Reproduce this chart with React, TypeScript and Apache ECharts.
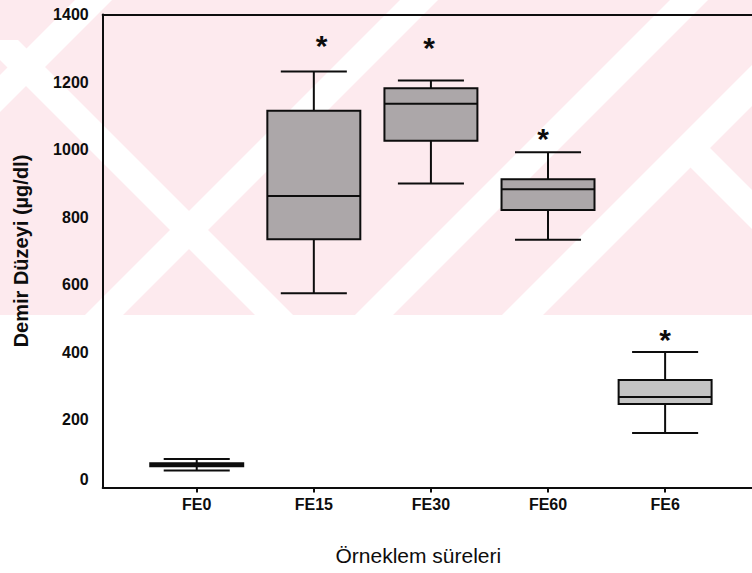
import React, { useEffect, useRef } from 'react';
import * as echarts from 'echarts';

// ---- data ----
const categories = ['FE0', 'FE15', 'FE30', 'FE60', 'FE6'];
const whiskerLow = [50, 575, 900, 733, 161];
const q1 = [63, 735, 1026, 821, 247];
const median = [68, 863, 1136, 883, 268];
const q3 = [72, 1115, 1182, 912, 318];
const whiskerHigh = [84, 1231, 1205, 992, 401];
const asteriskY: (number | null)[] = [null, 1316, 1310, 1043, 446];
const asteriskDx = [0, 0.067, -0.016, -0.043, 0];
const yTickValues = [0, 200, 400, 600, 800, 1000, 1200, 1400];

// ---- styles ----
const FONT = '"Liberation Sans", Arial, Helvetica, sans-serif';
const INK = '#0d0d0d';
const boxFill = ['#1a1a1a', '#aca7a9', '#aca7a9', '#aca7a9', '#c4c4c4'];
const PINK = '#fdeaee';

const pinkH = 315;
const downLeft = (c1: number, c2: number) => ({
  type: 'polygon',
  z: -99,
  silent: true,
  shape: { points: [[c1, 0], [c2, 0], [c2 - pinkH, pinkH], [c1 - pinkH, pinkH]] },
  style: { fill: '#ffffff' },
});
const downRightFrom = (d1: number, d2: number, y0: number) => ({
  type: 'polygon',
  z: -99,
  silent: true,
  shape: { points: [[d1 + y0, y0], [d2 + y0, y0], [d2 + pinkH, pinkH], [d1 + pinkH, pinkH]] },
  style: { fill: '#ffffff' },
});

export default function App() {
  const ref = useRef<HTMLDivElement>(null);
  useEffect(() => {
    if (!ref.current) return;
    const chart = echarts.init(ref.current, null, { renderer: 'svg' });
    const rows = categories.map((_, i) => [i, whiskerLow[i], q1[i], median[i], q3[i], whiskerHigh[i]]);
    const xMin = -0.803;
    const xMax = 4.742;
    chart.setOption({
      animation: false,
      backgroundColor: '#ffffff',
      graphic: [
        { type: 'rect', z: -100, silent: true, shape: { x: 0, y: 0, width: 752, height: pinkH }, style: { fill: PINK } },
        downLeft(75, 112),
        downLeft(400, 438),
        downLeft(670, 708),
        downLeft(817, 858),
        downRightFrom(-60, -22, 40),
        downRightFrom(523, 562, 147),
      ],
      grid: { left: 102.7, right: 0, top: 14.5, bottom: 85.5, containLabel: false },
      xAxis: [
        {
          type: 'value',
          min: xMin,
          max: xMax,
          axisLine: { show: true, onZero: false, lineStyle: { color: INK, width: 2 } },
          axisTick: { show: true, length: 5, lineStyle: { color: INK, width: 2 }, customValues: [0, 1, 2, 3, 4] },
          axisLabel: {
            customValues: [0, 1, 2, 3, 4],
            formatter: (v: number) => categories[Math.round(v)] ?? '',
            color: INK,
            fontSize: 16,
            fontWeight: 'bold',
            fontFamily: FONT,
            margin: 9,
          },
          splitLine: { show: false },
          name: 'Örneklem süreleri',
          nameLocation: 'middle',
          nameGap: 68,
          nameTextStyle: { color: INK, fontSize: 21, fontFamily: FONT, verticalAlign: 'middle', padding: [0, 18, 0, 0] },
        },
        {
          type: 'value',
          position: 'top',
          min: xMin,
          max: xMax,
          axisLine: { show: true, onZero: false, lineStyle: { color: INK, width: 2 } },
          axisTick: { show: false },
          axisLabel: { show: false },
          splitLine: { show: false },
        },
      ],
      yAxis: {
        type: 'value',
        min: 0,
        max: 1400,
        interval: 200,
        axisLine: { show: true, onZero: false, lineStyle: { color: INK, width: 2 } },
        axisTick: { show: false },
        splitLine: { show: false },
        axisLabel: {
          customValues: yTickValues,
          color: INK,
          fontSize: 16,
          fontWeight: 'bold',
          fontFamily: FONT,
          margin: 14,
          formatter: (v: number) => (v === 0 ? '{z|0}' : String(v)),
          rich: {
            z: { color: INK, fontSize: 16, fontWeight: 'bold', fontFamily: FONT, padding: [0, 0, 17, 0] },
          },
        },
        name: 'Demir Düzeyi (µg/dl)',
        nameLocation: 'middle',
        nameGap: 82,
        nameTextStyle: { color: INK, fontSize: 20, fontWeight: 'bold', fontFamily: FONT, verticalAlign: 'middle' },
      },
      series: [
        {
          type: 'custom',
          xAxisIndex: 0,
          yAxisIndex: 0,
          data: rows,
          encode: { x: 0, y: [1, 2, 3, 4, 5] },
          renderItem: (params: any, api: any) => {
            const idx = params.dataIndex;
            const xi = api.value(0);
            const cx = api.coord([xi, 0])[0];
            const yLow = api.coord([xi, api.value(1)])[1];
            const yQ1 = api.coord([xi, api.value(2)])[1];
            const yMed = api.coord([xi, api.value(3)])[1];
            const yQ3 = api.coord([xi, api.value(4)])[1];
            const yHigh = api.coord([xi, api.value(5)])[1];
            const unit = api.size([1, 0])[0];
            const bw = unit * 0.794;
            const cw = unit * 0.564;
            const ls = { stroke: INK, lineWidth: 2 };
            const children: any[] = [
              { type: 'line', shape: { x1: cx, y1: yHigh, x2: cx, y2: yQ3 }, style: ls },
              { type: 'line', shape: { x1: cx, y1: yQ1, x2: cx, y2: yLow }, style: ls },
              { type: 'line', shape: { x1: cx - cw / 2, y1: yHigh, x2: cx + cw / 2, y2: yHigh }, style: ls },
              { type: 'line', shape: { x1: cx - cw / 2, y1: yLow, x2: cx + cw / 2, y2: yLow }, style: ls },
              {
                type: 'rect',
                shape: { x: cx - bw / 2, y: yQ3, width: bw, height: yQ1 - yQ3 },
                style: { fill: boxFill[idx], stroke: INK, lineWidth: 2 },
              },
              { type: 'line', shape: { x1: cx - bw / 2, y1: yMed, x2: cx + bw / 2, y2: yMed }, style: ls },
            ];
            const ay = asteriskY[idx];
            if (ay != null) {
              const p = api.coord([xi + asteriskDx[idx], ay]);
              children.push({
                type: 'text',
                x: p[0],
                y: p[1] + 3,
                style: {
                  text: '*',
                  fill: INK,
                  fontSize: 30,
                  fontWeight: 'bold',
                  fontFamily: FONT,
                  align: 'center',
                  verticalAlign: 'middle',
                },
              });
            }
            return { type: 'group', children };
          },
        },
      ],
    });
    return () => chart.dispose();
  }, []);
  return <div ref={ref} style={{ position: 'fixed', left: 0, top: 0, width: 752, height: 573 }} />;
}
